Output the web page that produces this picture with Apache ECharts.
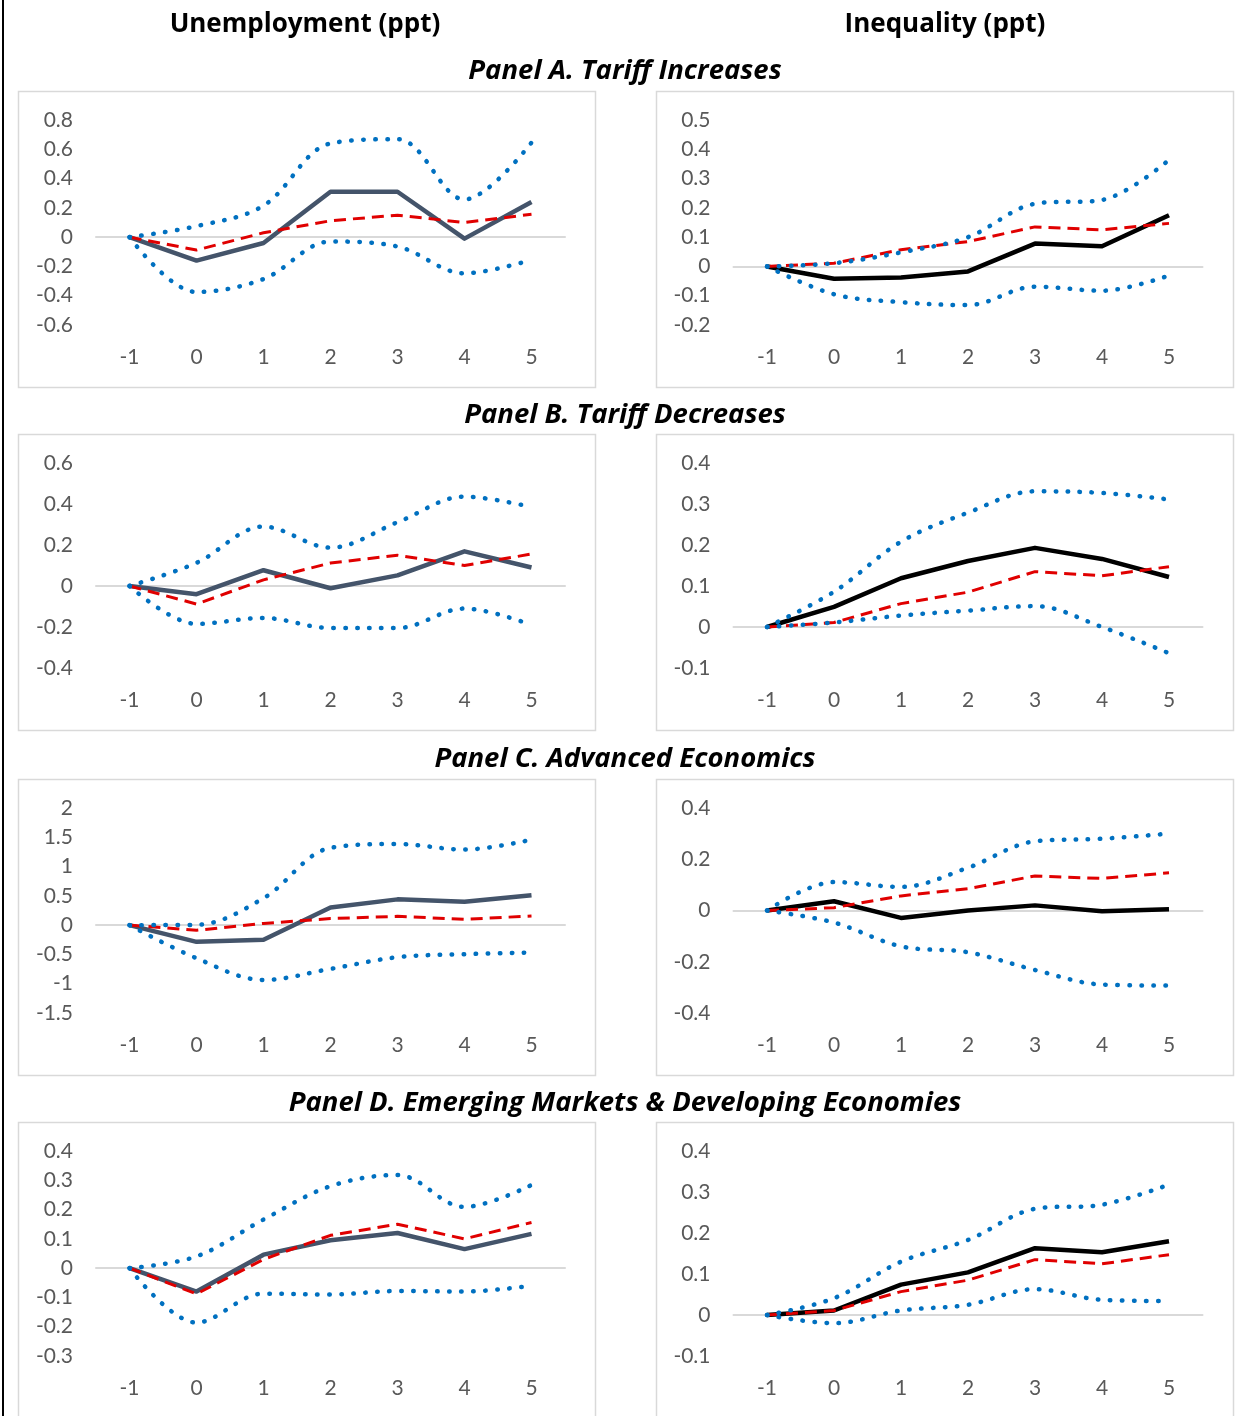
<!DOCTYPE html>
<html>
<head>
<meta charset="utf-8">
<script src="https://cdn.jsdelivr.net/npm/echarts@6/dist/echarts.min.js"></script>
<style>
html, body { margin: 0; padding: 0; background: #fff; }
#chart { width: 1241px; height: 1416px; }
</style>
</head>
<body>
<div id="chart"></div>
<script>
// horizon (years after shock)
const horizons = ['-1', '0', '1', '2', '3', '4', '5'];

// red dashed benchmark, same in every panel of a column
const benchUnemp = [0, -0.088, 0.03, 0.112, 0.15, 0.1, 0.156];
const benchIneq = [0, 0.011, 0.057, 0.085, 0.135, 0.125, 0.147];

// Panel A. Tariff Increases
const aUnemp = [0, -0.16, -0.04, 0.31, 0.31, -0.01, 0.24];
const aUnempHi = [0, 0.075, 0.215, 0.64, 0.669, 0.257, 0.646];
const aUnempLo = [0, -0.375, -0.286, -0.03, -0.064, -0.247, -0.155];
const aIneq = [0, -0.042, -0.038, -0.017, 0.078, 0.069, 0.175];
const aIneqHi = [0, 0.011, 0.048, 0.1, 0.214, 0.227, 0.364];
const aIneqLo = [0, -0.095, -0.122, -0.132, -0.069, -0.083, -0.031];

// Panel B. Tariff Decreases
const bUnemp = [0, -0.04, 0.077, -0.011, 0.052, 0.169, 0.09];
const bUnempHi = [0, 0.113, 0.29, 0.187, 0.311, 0.436, 0.385];
const bUnempLo = [0, -0.185, -0.156, -0.205, -0.205, -0.11, -0.19];
const bIneq = [0, 0.049, 0.119, 0.161, 0.193, 0.166, 0.122];
const bIneqHi = [0, 0.086, 0.208, 0.279, 0.331, 0.327, 0.311];
const bIneqLo = [0, 0.011, 0.028, 0.04, 0.051, 0.0, -0.064];

// Panel C. Advanced Economics
const cUnemp = [0, -0.285, -0.25, 0.3, 0.44, 0.4, 0.51];
const cUnempHi = [0, 0.005, 0.46, 1.32, 1.385, 1.29, 1.46];
const cUnempLo = [0, -0.565, -0.935, -0.747, -0.547, -0.496, -0.467];
const cIneq = [0, 0.036, -0.029, 0.0, 0.02, -0.003, 0.005];
const cIneqHi = [0, 0.111, 0.092, 0.167, 0.27, 0.28, 0.3];
const cIneqLo = [0, -0.047, -0.14, -0.163, -0.232, -0.289, -0.293];

// Panel D. Emerging Markets & Developing Economies
const dUnemp = [0, -0.08, 0.046, 0.095, 0.12, 0.065, 0.117];
const dUnempHi = [0, 0.04, 0.166, 0.28, 0.318, 0.209, 0.284];
const dUnempLo = [0, -0.186, -0.087, -0.09, -0.078, -0.08, -0.06];
const dIneq = [0, 0.011, 0.074, 0.104, 0.163, 0.153, 0.18];
const dIneqHi = [0, 0.041, 0.13, 0.183, 0.259, 0.269, 0.318];
const dIneqLo = [0, -0.02, 0.011, 0.025, 0.063, 0.037, 0.034];

// y axis ranges [min, max, interval]
const unempAxes = [[-0.6, 0.8, 0.2], [-0.4, 0.6, 0.2], [-1.5, 2, 0.5], [-0.3, 0.4, 0.1]];
const ineqAxes = [[-0.2, 0.5, 0.1], [-0.1, 0.4, 0.1], [-0.4, 0.4, 0.2], [-0.1, 0.4, 0.1]];

const columnTitles = ['Unemployment (ppt)', 'Inequality (ppt)'];
const panelTitles = [
   'Panel A. Tariff Increases',
   'Panel B. Tariff Decreases',
   'Panel C. Advanced Economics',
   'Panel D. Emerging Markets & Developing Economies'
];

const font = 'Lato, "Open Sans", sans-serif';
const titleFont = '"Open Sans", Lato, sans-serif';
const rowTops = [120, 463, 808, 1151];
const boxTops = [91, 434, 779, 1122];
const titleYs = [71, 415, 759, 1103];
const colLefts = [96, 733.5];
const boxLefts = [18, 656];

const panels = [
   [[aUnemp, aUnempHi, aUnempLo], [aIneq, aIneqHi, aIneqLo]],
   [[bUnemp, bUnempHi, bUnempLo], [bIneq, bIneqHi, bIneqLo]],
   [[cUnemp, cUnempHi, cUnempLo], [cIneq, cIneqHi, cIneqLo]],
   [[dUnemp, dUnempHi, dUnempLo], [dIneq, dIneqHi, dIneqLo]]
];

const grids = [], xAxes = [], yAxes = [], series = [];
const graphics = [];

graphics.push({
   type: 'rect', shape: { x: 2, y: 0, width: 2, height: 1416 },
   style: { fill: '#000' }, z: 10
});

columnTitles.forEach(function (t, c) {
   graphics.push({
      type: 'text', x: c === 0 ? 305 : 945, y: 25,
      style: { text: t, font: 'bold 26px ' + titleFont, fill: '#000', textAlign: 'center', textVerticalAlign: 'middle' }
   });
});

for (let r = 0; r < 4; r++) {
   graphics.push({
      type: 'text', x: 625, y: titleYs[r],
      style: { text: panelTitles[r], font: 'italic bold 27.5px ' + titleFont, fill: '#000', textAlign: 'center', textVerticalAlign: 'middle' }
   });
   for (let c = 0; c < 2; c++) {
      const idx = grids.length;
      const range = c === 0 ? unempAxes[r] : ineqAxes[r];
      const vals = panels[r][c];
      graphics.push({
         type: 'rect', shape: { x: boxLefts[c] + 0.5, y: boxTops[r] + 0.5, width: 577, height: 296 },
         style: { fill: 'none', stroke: '#D9D9D9', lineWidth: 1.5 }, z: -1
      });
      grids.push({ left: colLefts[c], top: rowTops[r], width: 469, height: 205 });
      xAxes.push({
         gridIndex: idx, type: 'category', data: horizons, position: 'bottom',
         axisLine: { show: false, onZero: false }, axisTick: { show: false }, splitLine: { show: false },
         axisLabel: { color: '#595959', fontSize: 21, fontFamily: font, margin: 22 }
      });
      xAxes.push({
         gridIndex: idx, type: 'category', data: horizons, position: 'top',
         axisLine: { show: true, onZero: true, lineStyle: { color: '#D9D9D9', width: 2 } },
         axisTick: { show: false }, axisLabel: { show: false }, splitLine: { show: false }
      });
      yAxes.push({
         gridIndex: idx, type: 'value', min: range[0], max: range[1], interval: range[2],
         axisLine: { show: false }, axisTick: { show: false }, splitLine: { show: false },
         axisLabel: { color: '#595959', fontSize: 21, fontFamily: font, margin: 23 }
      });
      const xi = idx * 2;
      series.push({
         type: 'line', xAxisIndex: xi, yAxisIndex: idx, data: vals[0], symbol: 'none', z: 2,
         lineStyle: { color: c === 0 ? '#44546A' : '#000000', width: 4.5, join: 'round' }
      });
      series.push({
         type: 'line', xAxisIndex: xi, yAxisIndex: idx, data: c === 0 ? benchUnemp : benchIneq, symbol: 'none', z: 3,
         lineStyle: { color: '#E00000', width: 3, type: [12, 7] }
      });
      [vals[1], vals[2]].forEach(function (band) {
         series.push({
            type: 'line', xAxisIndex: xi, yAxisIndex: idx, data: band, symbol: 'none', smooth: 0.35, z: 4,
            lineStyle: { color: '#0070C0', width: 4.5, type: [0.5, 11.5], cap: 'round' }
         });
      });
   }
}

const chart = echarts.init(document.getElementById('chart'), null, { renderer: 'canvas' });
chart.setOption({
   animation: false,
   backgroundColor: '#fff',
   grid: grids,
   xAxis: xAxes,
   yAxis: yAxes,
   series: series,
   graphic: graphics
});
</script>
</body>
</html>
